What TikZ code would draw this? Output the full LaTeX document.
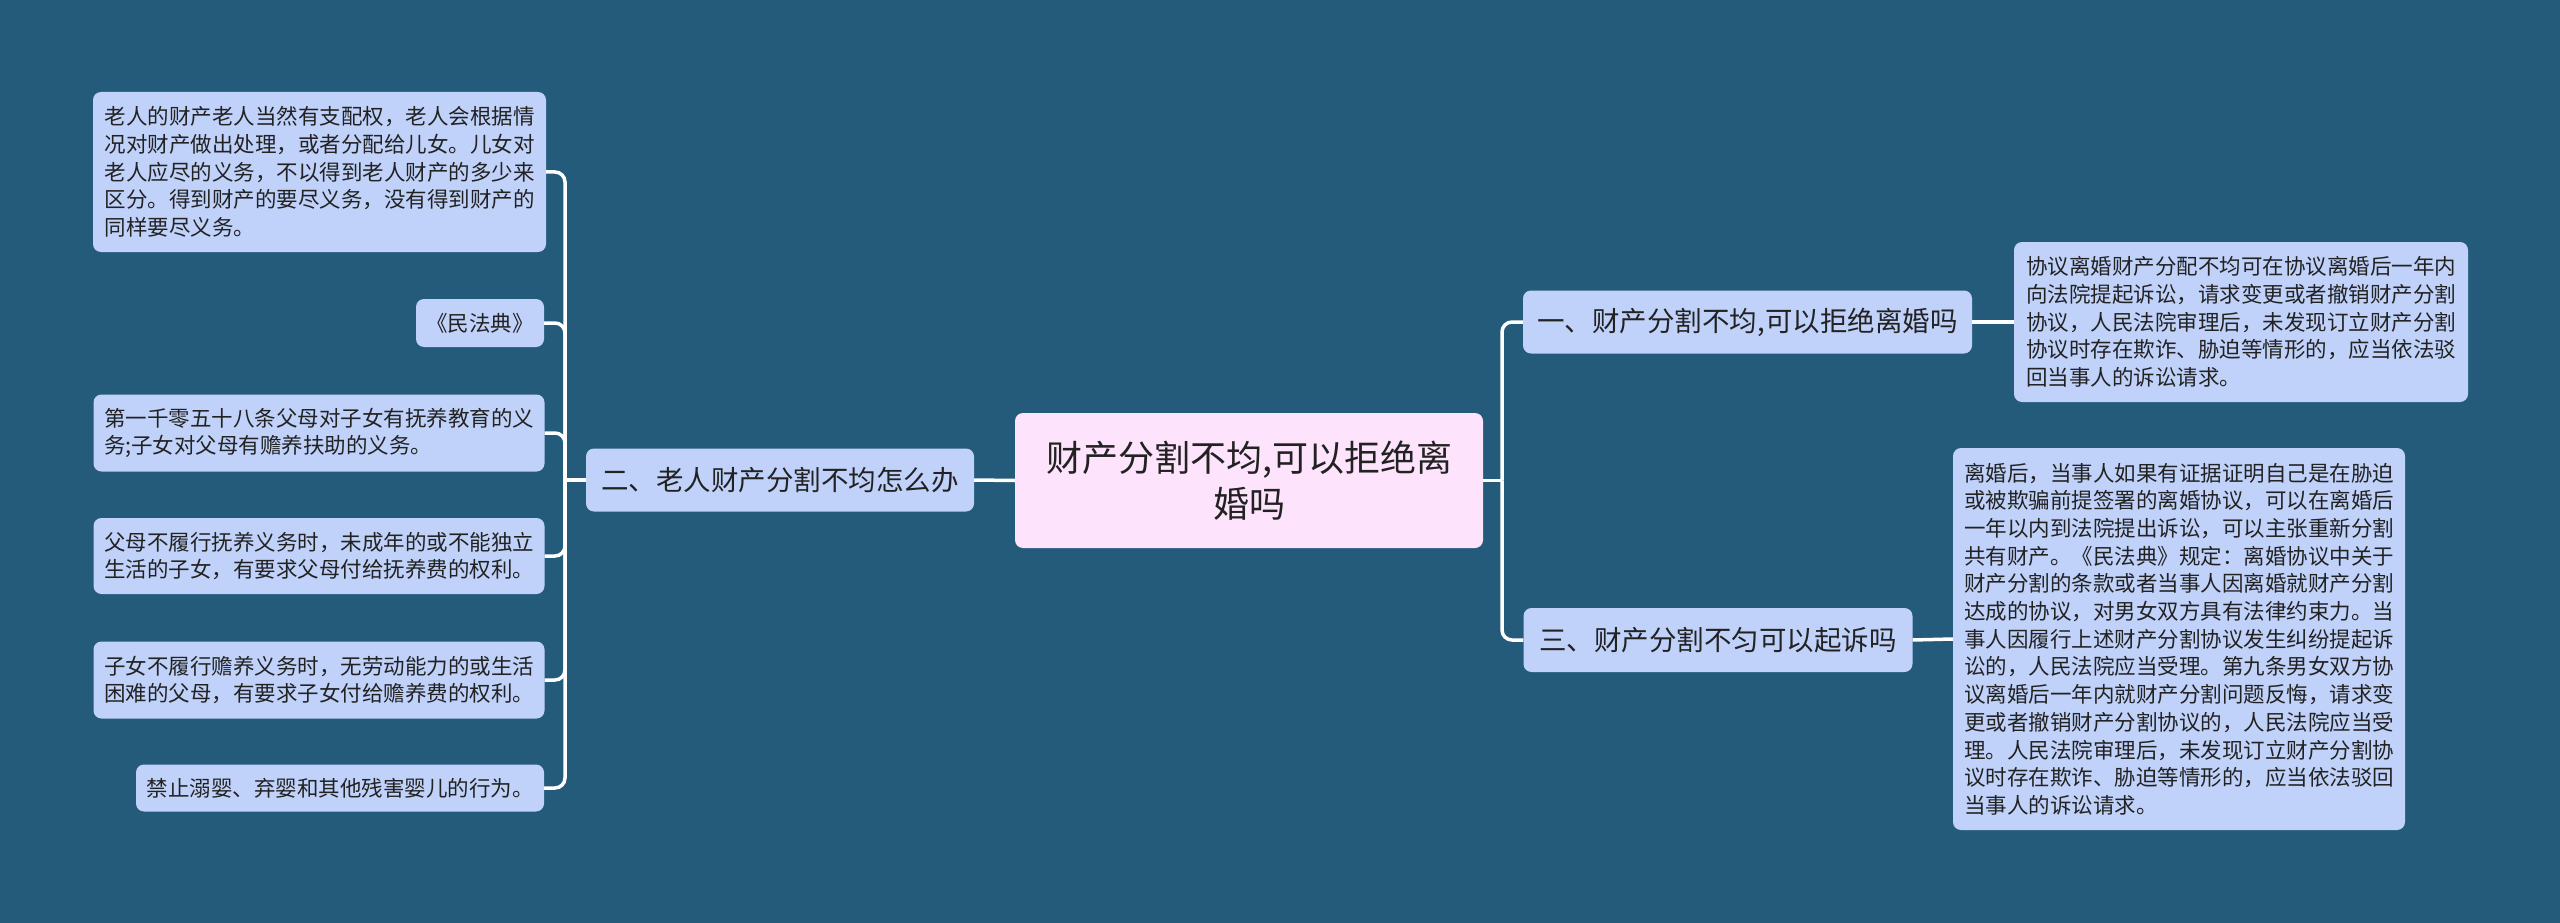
\documentclass[tikz,border=0pt]{standalone}
\usepackage{fontspec}
\setmainfont{Noto Sans CJK SC}
\definecolor{bgc}{RGB}{36,90,122}
\definecolor{leafc}{RGB}{192,210,250}
\definecolor{rootc}{RGB}{253,228,252}
\definecolor{txtc}{RGB}{34,34,34}
\begin{document}
\begin{tikzpicture}[x=1pt,y=-1pt,
  leaf/.style={fill=leafc, rounded corners=8pt, inner sep=0pt, text=txtc,
    font=\fontsize{21.5}{27.7}\selectfont, align=left},
  branch/.style={fill=leafc, rounded corners=8pt, inner sep=0pt, text=txtc,
    font=\fontsize{27.5}{34}\selectfont, align=center},
  root/.style={fill=rootc, rounded corners=8pt, inner sep=0pt, text=txtc,
    font=\fontsize{36}{46}\selectfont, align=center},
  conn/.style={draw=white, line width=3.5pt},
  rc/.style={conn, rounded corners=10pt}]
\useasboundingbox (0,0) rectangle (2560,923);
\fill[bgc] (0,0) rectangle (2560,923);

\node[root, minimum width=468pt, minimum height=135pt] (c) at (1249,480.5)
  {财产分割不均,可以拒绝离\\婚吗};

\node[branch, minimum width=388pt, minimum height=63pt] (b2) at (780,480)
  {二、老人财产分割不均怎么办};
\node[branch, minimum width=449pt, minimum height=63pt] (b1) at (1747.5,322)
  {一、财产分割不均,可以拒绝离婚吗};
\node[branch, minimum width=389pt, minimum height=64pt] (b3) at (1718,640)
  {三、财产分割不匀可以起诉吗};

\node[leaf, minimum width=453pt, minimum height=160pt] (l1) at (319.5,172)
  {老人的财产老人当然有支配权，老人会根据情\\
   况对财产做出处理，或者分配给儿女。儿女对\\
   老人应尽的义务，不以得到老人财产的多少来\\
   区分。得到财产的要尽义务，没有得到财产的\\
   同样要尽义务。};
\node[leaf, minimum width=128pt, minimum height=48pt] (l2) at (480,323)
  {《民法典》};
\node[leaf, minimum width=451pt, minimum height=77pt] (l3) at (319,433)
  {第一千零五十八条父母对子女有抚养教育的义\\
   务;子女对父母有赡养扶助的义务。};
\node[leaf, minimum width=451pt, minimum height=76pt] (l4) at (319,556)
  {父母不履行抚养义务时，未成年的或不能独立\\
   生活的子女，有要求父母付给抚养费的权利。};
\node[leaf, minimum width=451pt, minimum height=77pt] (l5) at (319,680)
  {子女不履行赡养义务时，无劳动能力的或生活\\
   困难的父母，有要求子女付给赡养费的权利。};
\node[leaf, minimum width=408pt, minimum height=47pt] (l6) at (340,788)
  {禁止溺婴、弃婴和其他残害婴儿的行为。};

\node[leaf, minimum width=454pt, minimum height=160pt] (r1) at (2241,322)
  {协议离婚财产分配不均可在协议离婚后一年内\\
   向法院提起诉讼，请求变更或者撤销财产分割\\
   协议，人民法院审理后，未发现订立财产分割\\
   协议时存在欺诈、胁迫等情形的，应当依法驳\\
   回当事人的诉讼请求。};
\node[leaf, minimum width=452pt, minimum height=382pt] (r3) at (2179,639)
  {离婚后，当事人如果有证据证明自己是在胁迫\\
   或被欺骗前提签署的离婚协议，可以在离婚后\\
   一年以内到法院提出诉讼，可以主张重新分割\\
   共有财产。《民法典》规定：离婚协议中关于\\
   财产分割的条款或者当事人因离婚就财产分割\\
   达成的协议，对男女双方具有法律约束力。当\\
   事人因履行上述财产分割协议发生纠纷提起诉\\
   讼的，人民法院应当受理。第九条男女双方协\\
   议离婚后一年内就财产分割问题反悔，请求变\\
   更或者撤销财产分割协议的，人民法院应当受\\
   理。人民法院审理后，未发现订立财产分割协\\
   议时存在欺诈、胁迫等情形的，应当依法驳回\\
   当事人的诉讼请求。};

\coordinate (tl) at (565,480);
\coordinate (tr) at (1502,480.5);

\draw[conn] (b2.east) -- (c.west);
\draw[conn] (b2.west) -- (tl);
\foreach \n in {l1,l2,l3,l4,l5,l6}
  \draw[rc] (tl) |- (\n.east);
\draw[conn] (c.east) -- (tr);
\draw[rc] (tr) |- (b1.west);
\draw[rc] (tr) |- (b3.west);
\draw[conn] (b1.east) -- (r1.west);
\draw[conn] (b3.east) -- (r3.west);
\end{tikzpicture}
\end{document}
